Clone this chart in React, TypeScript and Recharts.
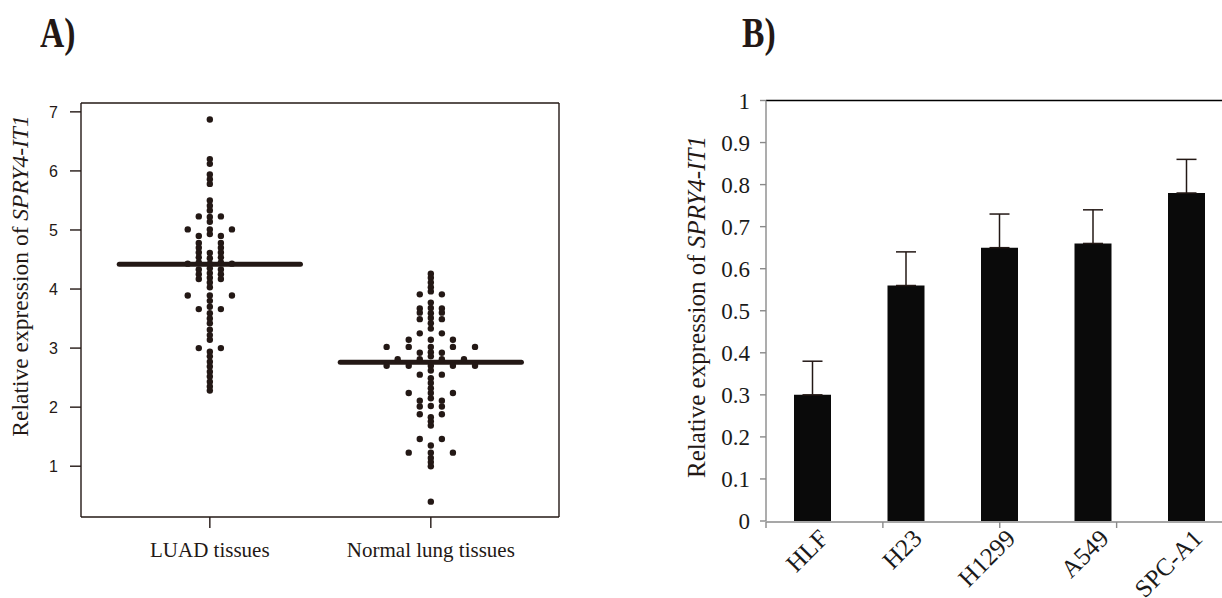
import React from 'react';
import {
  ScatterChart, Scatter, BarChart, Bar, ErrorBar, XAxis, YAxis, ReferenceLine,
} from 'recharts';

// panel A: dot plot
const GROUPS = ['LUAD tissues', 'Normal lung tissues'];
const Y_TICKS_A = [1, 2, 3, 4, 5, 6, 7];
const MEANS = [4.42, 2.76];

// tied values are spread side by side in one row
const LUAD = [
  6.87,
  6.2, 6.12,
  5.94, 5.86, 5.78,
  5.5, 5.41, 5.33,
  5.23, 5.23, 5.22,
  5.14,
  5.01, 5.01, 5.01,
  4.93,
  4.9, 4.9,
  4.78, 4.78,
  4.7, 4.7,
  4.62, 4.62, 4.61,
  4.54, 4.54, 4.52,
  4.45, 4.45,
  4.43, 4.43, 4.43,
  4.35, 4.33, 4.33,
  4.27, 4.25, 4.25,
  4.19, 4.17, 4.17,
  4.11, 4.03,
  3.89, 3.89, 3.89,
  3.8, 3.7,
  3.66, 3.66,
  3.59, 3.5, 3.42, 3.31, 3.22, 3.14,
  3.0, 3.0,
  2.94, 2.86, 2.77, 2.69, 2.6, 2.52, 2.43, 2.35, 2.28,
];

const NORMAL = [
  4.26, 4.19, 4.11, 4.03, 3.96,
  3.91, 3.91,
  3.77,
  3.68, 3.67, 3.67,
  3.6, 3.6, 3.59,
  3.51, 3.49, 3.49,
  3.42, 3.33,
  3.25, 3.25,
  3.14, 3.14, 3.14,
  3.02, 3.02, 3.02, 3.02, 3.02,
  2.93, 2.92, 2.92,
  2.86,
  2.81, 2.81, 2.81, 2.81,
  2.7, 2.7, 2.7, 2.7, 2.7,
  2.62,
  2.55, 2.55,
  2.49, 2.41, 2.32,
  2.24, 2.24, 2.24,
  2.15,
  2.11, 2.11,
  2.02, 2.01, 2.01,
  1.88, 1.88,
  1.83, 1.76, 1.69,
  1.46, 1.46,
  1.35,
  1.23, 1.23, 1.23,
  1.14, 1.07, 1.0,
  0.4,
];

// panel B: bars
const CELL_LINES = ['HLF', 'H23', 'H1299', 'A549', 'SPC-A1'];
const EXPRESSION = [0.3, 0.56, 0.65, 0.66, 0.78];
const SD = [0.08, 0.08, 0.08, 0.08, 0.08];
const Y_TICKS_B = [0, 0.1, 0.2, 0.3, 0.4, 0.5, 0.6, 0.7, 0.8, 0.9, 1];
const BOUNDS_B = [0, 1, 2, 3, 4];

const INK = '#231815';
const GREY = '#8a8a8a';
const SERIF = '"Liberation Serif", "Times New Roman", serif';
const SANS = '"Liberation Sans", Arial, sans-serif';
const DOT_STEP = 0.1;
const X_DOMAIN_A: [number, number] = [0.417, 2.58];
const Y_DOMAIN_A: [number, number] = [0.14, 7.15];

function swarm(values: number[], center: number) {
  const counts = new Map<number, number>();
  values.forEach((v) => counts.set(v, (counts.get(v) || 0) + 1));
  const pts: { x: number; y: number }[] = [];
  counts.forEach((n, v) => {
    for (let i = 0; i < n; i++) pts.push({ x: center + (i - (n - 1) / 2) * DOT_STEP, y: v });
  });
  return pts;
}

// only the upper whisker shows above the bar
const barData = CELL_LINES.map((name, i) => ({ name, value: EXPRESSION[i], sd: [0, SD[i]] }));

const Dot = (p: any) => <circle cx={p.cx} cy={p.cy} r={3.2} fill={INK} />;

const RotTick = ({ x, y, payload }: any) => {
  const ax = x + 17;
  const ay = y + 19;
  return (
    <text x={ax} y={ay} transform={`rotate(-45 ${ax} ${ay})`} textAnchor="end"
      fontFamily={SERIF} fontSize={25} fill="#1a1a1a">
      {payload.value}
    </text>
  );
};

function YLabel({ x, y, size }: { x: number; y: number; size: number }) {
  return (
    <div style={{
      position: 'absolute', left: x, top: y, transform: 'translate(-50%, -50%) rotate(-90deg)',
      fontFamily: SERIF, fontSize: size, color: INK, whiteSpace: 'nowrap', lineHeight: 1,
    }}>
      Relative expression of <i>SPRY4-IT1</i>
    </div>
  );
}

function PanelTag({ x, text }: { x: number; text: string }) {
  return (
    <div style={{
      position: 'absolute', left: x, top: 12, fontFamily: SERIF, fontWeight: 'bold',
      fontSize: 42, lineHeight: 1, color: INK, transform: 'scaleX(0.8)', transformOrigin: 'left top',
    }}>
      {text}
    </div>
  );
}

export default function App() {
  const dots = [...swarm(LUAD, 1), ...swarm(NORMAL, 2)];

  return (
    <div style={{
      position: 'absolute', left: 0, top: 0, width: 1222, height: 598,
      overflow: 'hidden', background: '#fff',
    }}>
      <PanelTag x={40} text="A)" />
      <PanelTag x={742} text="B)" />

      <div style={{ position: 'absolute', left: 0, top: 0 }}>
        <ScatterChart width={600} height={598} margin={{ top: 103, right: 41, bottom: 41, left: 21 }}>
          <XAxis type="number" dataKey="x" domain={X_DOMAIN_A} ticks={[1, 2]}
            tickFormatter={(v) => GROUPS[v - 1]} height={40} tickSize={11} tickMargin={14}
            axisLine={{ stroke: INK, strokeWidth: 1.4 }} tickLine={{ stroke: INK, strokeWidth: 1.4 }}
            tick={{ fontFamily: SERIF, fontSize: 21, fill: INK }} />
          <YAxis type="number" dataKey="y" domain={Y_DOMAIN_A} ticks={Y_TICKS_A} width={60}
            tickSize={11} tickMargin={12}
            axisLine={{ stroke: INK, strokeWidth: 1.4 }} tickLine={{ stroke: INK, strokeWidth: 1.4 }}
            tick={{ fontFamily: SANS, fontSize: 16, fill: INK }} />
          <ReferenceLine y={Y_DOMAIN_A[1]} stroke={INK} strokeWidth={1.4} ifOverflow="visible" />
          <ReferenceLine x={X_DOMAIN_A[1]} stroke={INK} strokeWidth={1.4} ifOverflow="visible" />
          <Scatter data={dots} shape={Dot} isAnimationActive={false} />
          {MEANS.map((m, i) => (
            <ReferenceLine key={i} segment={[{ x: i + 1 - 0.41, y: m }, { x: i + 1 + 0.41, y: m }]}
              stroke={INK} strokeWidth={5} strokeLinecap="round" />
          ))}
        </ScatterChart>
      </div>
      <YLabel x={21} y={276} size={23.5} />

      <div style={{ position: 'absolute', left: 620, top: 0 }}>
        <BarChart width={640} height={598} data={barData}
          margin={{ top: 100.5, right: 26.5, bottom: 75, left: 86 }}>
          <XAxis xAxisId="grid" type="number" domain={[0, 5]} ticks={BOUNDS_B} height={1}
            tickFormatter={() => ''} tickSize={6} axisLine={{ stroke: GREY, strokeWidth: 1.4 }}
            tickLine={{ stroke: GREY, strokeWidth: 1.4 }} />
          <XAxis dataKey="name" height={1} axisLine={false} tickLine={false} tickSize={0}
            tickMargin={0} tick={<RotTick />} interval={0} />
          <YAxis domain={[0, 1]} ticks={Y_TICKS_B} width={60} tickSize={6} tickMargin={10}
            tickFormatter={(v) => String(v)} interval={0}
            axisLine={{ stroke: GREY, strokeWidth: 1.4 }} tickLine={{ stroke: GREY, strokeWidth: 1.4 }}
            tick={{ fontFamily: SERIF, fontSize: 23, fill: '#1a1a1a' }} />
          <ReferenceLine y={1} stroke="#000" strokeWidth={1.5} ifOverflow="visible" />
          <Bar dataKey="value" barSize={37} fill="#0a0a0a" isAnimationActive={false}>
            <ErrorBar dataKey="sd" direction="y" width={10} stroke={INK} strokeWidth={1.5} />
          </Bar>
        </BarChart>
      </div>
      <YLabel x={696} y={307} size={25} />
    </div>
  );
}
